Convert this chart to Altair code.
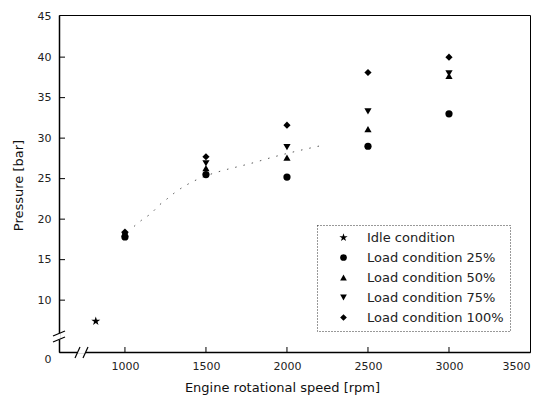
import altair as alt
import pandas as pd

# ---- data ----
speeds = [1000, 1500, 2000, 2500, 3000]
load25 = [17.8, 25.5, 25.2, 29.0, 33.0]
load50 = [18.2, 26.3, 27.6, 31.1, 37.7]
load75 = [18.0, 26.9, 28.9, 33.3, 38.0]
load100 = [18.4, 27.7, 31.6, 38.1, 40.0]
idle_speed = [820]
idle_pressure = [7.4]
trend_speed = [1056, 1111, 1161, 1210, 1260, 1303, 1834, 2216]
trend_pressure = [19.1, 20.0, 20.7, 21.7, 22.5, 23.2, 27.2, 29.1]

series_names = ["Idle condition", "Load condition 25%", "Load condition 50%",
                "Load condition 75%", "Load condition 100%"]
STAR = ("M0,-1.3L0.29,-0.4L1.24,-0.4L0.47,0.15L0.76,1.05L0,0.49"
        "L-0.76,1.05L-0.47,0.15L-1.24,-0.4L-0.29,-0.4Z")
shapes = [STAR, "circle", "triangle-up", "triangle-down", "diamond"]
x_tick_values = [1000, 1500, 2000, 2500, 3000, 3500]
y_tick_values = [10, 15, 20, 25, 30, 35, 40, 45]

rows = [{"series": series_names[0], "speed": s, "pressure": p}
        for s, p in zip(idle_speed, idle_pressure)]
for name, vals in zip(series_names[1:], [load25, load50, load75, load100]):
    rows += [{"series": name, "speed": s, "pressure": p} for s, p in zip(speeds, vals)]
points_df = pd.DataFrame(rows)
trend_df = pd.DataFrame({"speed": trend_speed, "pressure": trend_pressure})

W, H = 471, 337
FONT = "DejaVu Sans"
xscale = alt.Scale(domain=[593, 3500], nice=False, zero=False)
yscale = alt.Scale(domain=[3.6, 45.2], nice=False, zero=False)

x_axis = alt.Axis(values=x_tick_values, format="d", ticks=False, grid=False,
                  title="Engine rotational speed [rpm]",
                  labelFont=FONT, labelFontSize=11, labelColor="#222", labelPadding=8,
                  titleFont=FONT, titleFontSize=13, titleFontWeight="normal", titleColor="#111",
                  titleX=223, titleY=39, titleBaseline="alphabetic",
                  domainColor="black", domainWidth=1.5)
y_axis = alt.Axis(values=y_tick_values, format="d", ticks=False, grid=False, title="Pressure [bar]",
                  labelFont=FONT, labelFontSize=11, labelColor="#222", labelPadding=8,
                  titleFont=FONT, titleFontSize=13, titleFontWeight="normal", titleColor="#111",
                  titleX=-41, titleY=170, titleBaseline="middle", titleAlign="center",
                  domainColor="black", domainWidth=1.5)

trend = alt.Chart(trend_df).mark_line(color="#555", strokeWidth=1, strokeDash=[1.5, 7],
                                       interpolate="monotone").encode(
    x=alt.X("speed:Q", scale=xscale, axis=x_axis),
    y=alt.Y("pressure:Q", scale=yscale, axis=y_axis),
)

points = alt.Chart(points_df).mark_point(filled=True, color="black", size=52, opacity=1).encode(
    x=alt.X("speed:Q", scale=xscale, axis=x_axis),
    y=alt.Y("pressure:Q", scale=yscale, axis=y_axis),
    shape=alt.Shape("series:N", scale=alt.Scale(domain=series_names, range=shapes),
                    legend=alt.Legend(title=None, orient="none", legendX=258, legendY=210,
                                      labelFont=FONT, labelFontSize=13, labelColor="#222",
                                      symbolSize=45, symbolFillColor="black", symbolStrokeColor="black",
                                      symbolOffset=14, labelOffset=17, rowPadding=6, padding=6,
                                      strokeColor="#333")),
)

xt = alt.Chart(pd.DataFrame({"t": x_tick_values[:-1]})).mark_rule(color="black", strokeWidth=1).encode(
    x=alt.X("t:Q", scale=xscale, axis=x_axis), y=alt.value(H), y2=alt.value(H - 5))
yt = alt.Chart(pd.DataFrame({"t": y_tick_values[:-1]})).mark_rule(color="black", strokeWidth=1).encode(
    y=alt.Y("t:Q", scale=yscale, axis=y_axis), x=alt.value(0), x2=alt.value(6))

one = pd.DataFrame({"a": [0]})


def seg(x1, y1, x2, y2, color="black", width=1.2):
    return alt.Chart(one).mark_rule(color=color, strokeWidth=width).encode(
        x=alt.value(x1), y=alt.value(y1), x2=alt.value(x2), y2=alt.value(y2))


breaks = [
    seg(18, H, 27, H, color="white", width=3),
    seg(16, H + 6, 21, H - 5),
    seg(24, H + 6, 29, H - 5),
    seg(0, 318, 0, 325, color="white", width=3),
    seg(-6, 321, 6, 316),
    seg(-6, 327, 6, 322),
]

zero_label = alt.Chart(one).mark_text(text="0", font=FONT, fontSize=11).encode(
    x=alt.value(-11), y=alt.value(345), color=alt.value("#222"))

chart = alt.layer(trend, points, xt, yt, *breaks, zero_label).properties(
    width=W, height=H,
    autosize=alt.AutoSizeParams(type="none"),
    padding={"left": 51, "top": 7, "right": 6, "bottom": 44},
).configure_view(stroke="black", strokeWidth=1).configure_legend(strokeDash=[1, 2])

chart.save("out.html", embed_options={"renderer": "svg", "actions": False})
